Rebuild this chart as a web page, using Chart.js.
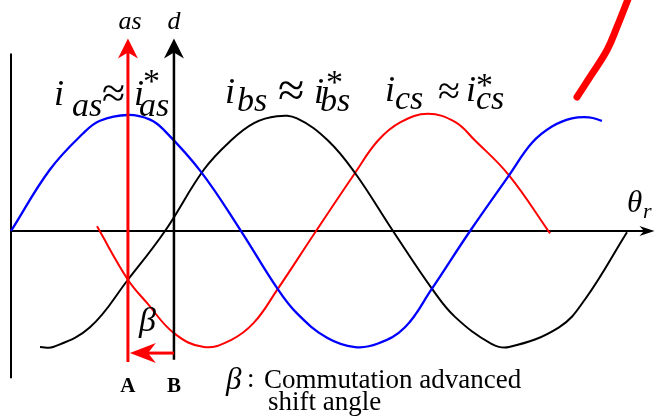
<!DOCTYPE html>
<html>
<head>
<meta charset="utf-8">
<script src="https://cdn.jsdelivr.net/npm/chart.js@4/dist/chart.umd.min.js"></script>
<style>
  html, body { margin: 0; padding: 0; background: #fff; }
  #wrap { width: 656px; height: 417px; position: relative; }
</style>
</head>
<body>
<div id="wrap"><canvas id="currentsChart"></canvas></div>
<script>
// rotor angle (electrical deg) and phase currents (per unit)
const iasTheta = [0, 30.5, 56.3, 69.6, 91.5, 108.8, 119.7, 148.7, 180, 208.1, 223.8, 247.3, 269.2, 287.2, 308.3, 328.6, 359.2, 389.7, 407.7, 423.3, 438.9, 452.3, 462.4];
const iasVal   = [0, 0.53, 0.84, 0.95, 1.00, 0.96, 0.87, 0.51, 0, -0.49, -0.71, -0.92, -1.00, -0.97, -0.83, -0.51, 0, 0.48, 0.76, 0.90, 0.97, 0.98, 0.95];

const ibsTheta = [22.7, 32.9, 61.8, 91.5, 120.5, 151, 172.1, 190.1, 208.1, 223.8, 248, 269.2, 298.9, 330.2, 347.4, 375.6, 389.7, 428.8, 449.1, 482];
const ibsVal   = [-1.00, -1.00, -0.83, -0.42, 0, 0.53, 0.78, 0.93, 0.99, 0.97, 0.78, 0.50, 0, -0.51, -0.74, -0.97, -1.00, -0.83, -0.59, -0.01];

const icsTheta = [67.3, 91.5, 106.4, 127.5, 151, 172.1, 190.1, 208.1, 238.7, 269.2, 287.2, 305.2, 326.3, 347.4, 363.1, 389.7, 421.8];
const icsVal   = [0.04, -0.42, -0.62, -0.88, -1.00, -0.94, -0.79, -0.51, 0, 0.50, 0.78, 0.94, 1.01, 0.94, 0.78, 0.48, -0.02];

// hand-drawn red stroke in the top right corner
const markTheta = [442.9, 453.1, 466.4, 474.2, 483.6];
const markVal   = [1.155, 1.328, 1.56, 1.759, 2.02];

// axis / annotation positions (data units)
const axisEnd = 503.5;
const leftTop = 1.53, leftBottom = -1.27;
const asTheta = 91.5, dTheta = 127.5;
const arrowTop = 1.66, asBottom = -1.13, dBottom = -1.11;
const betaLevel = -1.052;

const toPts = (xs, ys) => xs.map((x, i) => ({ x: x, y: ys[i] }));

const SERIF = "'Liberation Serif', 'Times New Roman', serif";

function txt(ctx, s, x, y, font, color, align) {
  ctx.font = font;
  ctx.fillStyle = color || '#000';
  ctx.textAlign = align || 'left';
  ctx.textBaseline = 'alphabetic';
  ctx.fillText(s, x, y);
}

// filled arrow head with a notched back
function arrow(ctx, x1, y1, x2, y2, len, half, color, lw) {
  const ang = Math.atan2(y2 - y1, x2 - x1);
  const c = Math.cos(ang), s = Math.sin(ang);
  ctx.strokeStyle = color;
  ctx.fillStyle = color;
  ctx.lineWidth = lw;
  ctx.beginPath();
  ctx.moveTo(x1, y1);
  ctx.lineTo(x2 - c * len * 0.6, y2 - s * len * 0.6);
  ctx.stroke();
  ctx.beginPath();
  ctx.moveTo(x2, y2);
  ctx.lineTo(x2 - c * len - s * half, y2 - s * len + c * half);
  ctx.lineTo(x2 - c * len * 0.7, y2 - s * len * 0.7);
  ctx.lineTo(x2 - c * len + s * half, y2 - s * len - c * half);
  ctx.closePath();
  ctx.fill();
}

const decorPlugin = {
  id: 'decor',
  beforeDatasetsDraw(chart) {
    const ctx = chart.ctx;
    const X = v => chart.scales.x.getPixelForValue(v);
    const Y = v => chart.scales.y.getPixelForValue(v);
    ctx.save();
    ctx.lineCap = 'butt';
    // left vertical line
    ctx.strokeStyle = '#000';
    ctx.lineWidth = 2;
    ctx.beginPath();
    ctx.moveTo(X(0), Y(leftTop));
    ctx.lineTo(X(0), Y(leftBottom));
    ctx.stroke();
    // theta_r axis
    arrow(ctx, X(0), Y(0), X(axisEnd), Y(0), 15, 5, '#000', 2.2);
    ctx.restore();
  },
  afterDatasetsDraw(chart) {
    const ctx = chart.ctx;
    const X = v => chart.scales.x.getPixelForValue(v);
    const Y = v => chart.scales.y.getPixelForValue(v);
    ctx.save();
    // d axis and as axis
    arrow(ctx, X(dTheta), Y(dBottom), X(dTheta), Y(arrowTop), 20, 10, '#000', 2.5);
    arrow(ctx, X(asTheta), Y(asBottom), X(asTheta), Y(arrowTop), 20, 10, '#ff0000', 3);
    // beta arrow
    arrow(ctx, X(dTheta), Y(betaLevel), X(asTheta + 1.5), Y(betaLevel), 26, 10, '#ff0000', 3);

    const it = sz => 'italic ' + sz + 'px ' + SERIF;
    txt(ctx, 'as', X(asTheta) + 2, 29, it(26), '#000', 'center');
    txt(ctx, 'd', X(dTheta), 29, it(26), '#000', 'center');

    // i_as ~ i*_as
    txt(ctx, 'i', 54, 105, it(36));
    txt(ctx, 'as', 72, 116, it(34));
    txt(ctx, '\u2248', 102, 107, '42px ' + SERIF);
    txt(ctx, 'i', 134, 105, it(36));
    txt(ctx, '*', 143, 92, '34px ' + SERIF);
    txt(ctx, 'as', 139, 116, it(34));
    // i_bs ~ i*_bs
    txt(ctx, 'i', 225, 103, it(36));
    txt(ctx, 'bs', 237, 111, it(34));
    txt(ctx, '\u2248', 278, 106, '48px ' + SERIF);
    txt(ctx, 'i', 314, 103, it(36));
    txt(ctx, '*', 326, 93, '34px ' + SERIF);
    txt(ctx, 'bs', 320, 111, it(34));
    // i_cs ~ i*_cs
    txt(ctx, 'i', 385, 101, it(36));
    txt(ctx, 'cs', 395, 109, it(34));
    txt(ctx, '\u2248', 438, 104, '40px ' + SERIF);
    txt(ctx, 'i', 466, 101, it(36));
    txt(ctx, '*', 476, 96, '34px ' + SERIF);
    txt(ctx, 'cs', 476, 109, it(34));

    // theta_r
    txt(ctx, '\u03b8', 627, 212, it(31));
    txt(ctx, 'r', 643, 218, it(22));

    // beta near arrow
    txt(ctx, '\u03b2', 139, 331, it(34));

    // A / B
    txt(ctx, 'A', X(asTheta), 392, 'bold 21px ' + SERIF, '#000', 'center');
    txt(ctx, 'B', X(dTheta), 392, 'bold 21px ' + SERIF, '#000', 'center');

    // legend note
    txt(ctx, '\u03b2', 226, 389, it(31));
    txt(ctx, ':', 247, 387, '27px ' + SERIF);
    txt(ctx, 'Commutation advanced', 264, 388, '27px ' + SERIF);
    txt(ctx, 'shift angle', 268, 410, '27px ' + SERIF);
    ctx.restore();
  }
};

const lineDs = (label, pts, color, width) => ({
  label: label,
  data: pts,
  borderColor: color,
  borderWidth: width,
  pointRadius: 0,
  fill: false,
  tension: 0.4
});

new Chart(document.getElementById('currentsChart'), {
  type: 'line',
  data: {
    datasets: [
      lineDs('i_as', toPts(iasTheta, iasVal), '#0000ff', 2.3),
      lineDs('i_bs', toPts(ibsTheta, ibsVal), '#000000', 2),
      lineDs('i_cs', toPts(icsTheta, icsVal), '#ff0000', 2),
      Object.assign(lineDs('mark', toPts(markTheta, markVal), '#ff0000', 7), { borderCapStyle: 'round' })
    ]
  },
  options: {
    responsive: true,
    maintainAspectRatio: false,
    animation: false,
    layout: { padding: 0 },
    elements: { line: { tension: 0.4 } },
    plugins: { legend: { display: false }, tooltip: { enabled: false } },
    scales: {
      x: { type: 'linear', min: -8.61, max: 504.7, display: false },
      y: { type: 'linear', min: -1.603, max: 1.991, display: false }
    }
  },
  plugins: [decorPlugin]
});
</script>
</body>
</html>
